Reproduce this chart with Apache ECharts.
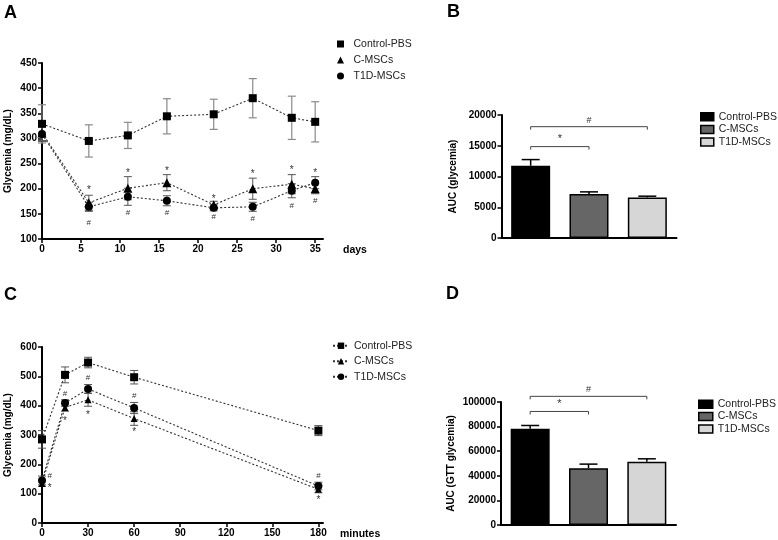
<!DOCTYPE html>
<html>
<head>
<meta charset="utf-8">
<script src="https://cdn.jsdelivr.net/npm/echarts@6/dist/echarts.min.js"></script>
<style>html,body{margin:0;padding:0;background:#fff}#c{width:778px;height:540px}</style>
</head>
<body>
<div id="c"></div>
<script>
// ---------- Panel A: glycemia over days ----------
const daysA = [0, 6, 11, 16, 22, 27, 32, 35];
const ctrlA = [329, 295, 306, 344, 348, 380, 341, 333];
const ctrlAErr = [38, 32, 26, 35, 30, 39, 43, 40];
const cmscA = [311, 172, 201, 212, 168, 200, 209, 200];
const cmscAErr = [15, 15, 23, 16, 7, 21, 19, 10];
const t1dA = [309, 164, 184, 176, 162, 164, 196, 212];
const t1dAErr = [15, 9, 17, 10, 6, 9, 14, 12];
const starsA = [[6, 201], [11, 235], [16, 239], [22, 184], [27, 232], [32, 240], [35, 234]];
const hashA = [[6, 133], [11, 152], [16, 152], [22, 144], [27, 141], [32, 167], [35, 176]];
const yTicksA = [100, 450, 50];

// ---------- Panel C: GTT over minutes ----------
const minC = [0, 15, 30, 60, 180];
const ctrlC = [285, 505, 547, 497, 315];
const ctrlCErr = [30, 27, 18, 23, 17];
const cmscC = [135, 394, 420, 356, 115];
const cmscCErr = [10, 13, 22, 23, 12];
const t1dC = [145, 409, 457, 392, 126];
const t1dCErr = [15, 11, 15, 19, 13];
const starsC = [[5, 126], [15, 353], [30, 375], [60, 316], [180, 84]];
const hashC = [[5, 160], [15, 441], [30, 496], [60, 435], [180, 160]];

// ---------- Panel B / D: AUC bars ----------
const groups = ['Control-PBS', 'C-MSCs', 'T1D-MSCs'];
const aucB = [11750, 7150, 6600];
const aucBErr = [1000, 350, 200];
const bracketsB = [[0, 2, 18100, '#'], [0, 1, 14860, '*']];
const aucD = [78200, 46200, 51400];
const aucDErr = [2700, 3300, 2400];
const bracketsD = [[0, 2, 104600, '#'], [0, 1, 92300, '*']];

const FONT = 'Liberation Sans, Arial, Helvetica, sans-serif';
const fillColors = ['#000000', '#666666', '#d6d6d6'];

function zip(xs, ys) { return xs.map((x, i) => [x, ys[i]]); }
function zip3(xs, ys, es) { return xs.map((x, i) => [x, ys[i], es[i]]); }

function errRender(capHalf, twoSided, color, width) {
  return function (params, api) {
    const x = api.value(0), m = api.value(1), e = api.value(2);
    const hi = api.coord([x, m + e]);
    const lo = api.coord([x, twoSided ? m - e : m]);
    const st = { stroke: color, lineWidth: width };
    const ch = [
      { type: 'line', shape: { x1: hi[0], y1: hi[1], x2: lo[0], y2: lo[1] }, style: st },
      { type: 'line', shape: { x1: hi[0] - capHalf, y1: hi[1], x2: hi[0] + capHalf, y2: hi[1] }, style: st }
    ];
    if (twoSided) ch.push({ type: 'line', shape: { x1: lo[0] - capHalf, y1: lo[1], x2: lo[0] + capHalf, y2: lo[1] }, style: st });
    return { type: 'group', children: ch };
  };
}
function textRender(txt, dy, size) {
  return function (params, api) {
    const p = api.coord([api.value(0), api.value(1)]);
    return { type: 'text', x: p[0], y: p[1] + dy,
      style: { text: txt, fill: '#333', font: size + 'px ' + FONT, align: 'center', verticalAlign: 'middle' } };
  };
}
function bracketRender(list) {
  return function (params, api) {
    const b = list[params.dataIndex];
    const p0 = api.coord([b[0], b[2]]);
    const p1 = api.coord([b[1], b[2]]);
    return { type: 'group', children: [
      { type: 'polyline', shape: { points: [[p0[0], p0[1] + 3], [p0[0], p0[1]], [p1[0], p1[1]], [p1[0], p1[1] + 3]] },
        style: { stroke: '#444', lineWidth: 1, fill: null } },
      { type: 'text', x: (p0[0] + p1[0]) / 2, y: p0[1] - 2,
        style: { text: b[3], fill: '#333', font: (b[3] === '*' ? 11 : 9) + 'px ' + FONT, align: 'center', verticalAlign: 'bottom' } }
    ] };
  };
}

const axisLineStyle = { show: true, lineStyle: { color: '#000', width: 2 } };
const tickStyle = { show: true, inside: false, length: 4, lineStyle: { color: '#000', width: 1.5 } };
const labelStyle = { color: '#000', fontFamily: FONT, fontWeight: 'bold', fontSize: 10, formatter: v => String(v) };

const SQ = 'path://M0,0L10,0L10,10L0,10Z';
const TRI = 'path://M5,0L10,10L0,10Z';

const lineCommon = { type: 'line', lineStyle: { color: '#333', width: 1.1, type: [2, 2] }, itemStyle: { color: '#000' }, z: 3, silent: true };
const letterStyle = { fontFamily: FONT, fontSize: 18, fontWeight: 'bold', color: '#000' };

const option = {
  animation: false,
  backgroundColor: '#fff',
  title: [
    { text: 'A', left: 4, top: 4, padding: 0, textStyle: letterStyle },
    { text: 'B', left: 447, top: 3, padding: 0, textStyle: letterStyle },
    { text: 'C', left: 4, top: 286, padding: 0, textStyle: letterStyle },
    { text: 'D', left: 446, top: 285, padding: 0, textStyle: letterStyle }
  ],
  grid: [
    { left: 42, top: 63, width: 281, height: 176 },
    { left: 501.5, top: 115, width: 175, height: 123 },
    { left: 42, top: 347, width: 281, height: 177 },
    { left: 501, top: 402, width: 175, height: 123 }
  ],
  legend: [
    { orient: 'vertical', left: 337, top: 36, padding: 0, itemGap: 0, itemWidth: 16, itemHeight: 7,
      formatter: n => n.split('|')[1],
      textStyle: { fontFamily: FONT, fontSize: 10.5, color: '#222', lineHeight: 16 },
      data: [{ name: 'A|Control-PBS', icon: SQ }, { name: 'A|C-MSCs', icon: TRI }, { name: 'A|T1D-MSCs', icon: 'circle' }] },
    { orient: 'vertical', left: 700, top: 110.5, padding: 0, itemGap: 0, itemWidth: 13, itemHeight: 8,
      formatter: n => n.split('|')[1], itemStyle: { borderColor: '#000', borderWidth: 1.5 },
      textStyle: { fontFamily: FONT, fontSize: 10.5, color: '#222', lineHeight: 12.6 },
      data: [{ name: 'B|Control-PBS', icon: 'rect' }, { name: 'B|C-MSCs', icon: 'rect' }, { name: 'B|T1D-MSCs', icon: 'rect' }] },
    { orient: 'vertical', left: 332, top: 338, padding: 0, itemGap: 0, itemWidth: 16, itemHeight: 8,
      formatter: n => n.split('|')[1],
      textStyle: { fontFamily: FONT, fontSize: 10.5, color: '#222', lineHeight: 15.5 },
      data: ['C|Control-PBS', 'C|C-MSCs', 'C|T1D-MSCs'] },
    { orient: 'vertical', left: 698, top: 398, padding: 0, itemGap: 0, itemWidth: 14, itemHeight: 8,
      formatter: n => n.split('|')[1], itemStyle: { borderColor: '#000', borderWidth: 1.5 },
      textStyle: { fontFamily: FONT, fontSize: 10.5, color: '#222', lineHeight: 12.4 },
      data: [{ name: 'D|Control-PBS', icon: 'rect' }, { name: 'D|C-MSCs', icon: 'rect' }, { name: 'D|T1D-MSCs', icon: 'rect' }] }
  ],
  xAxis: [
    { gridIndex: 0, type: 'value', min: 0, max: 36, interval: 5,
      axisLine: axisLineStyle, axisTick: Object.assign({ customValues: [0, 5, 10, 15, 20, 25, 30, 35] }, tickStyle),
      axisLabel: Object.assign({ margin: 5, customValues: [0, 5, 10, 15, 20, 25, 30, 35] }, labelStyle),
      splitLine: { show: false },
      name: 'days', nameLocation: 'end', nameGap: 20,
      nameTextStyle: { fontFamily: FONT, fontWeight: 'bold', fontSize: 10.5, color: '#000', verticalAlign: 'top', padding: [6, 0, 0, 0] } },
    { gridIndex: 1, type: 'category', data: groups, axisLine: axisLineStyle, axisTick: { show: false }, axisLabel: { show: false } },
    { gridIndex: 2, type: 'value', min: 0, max: 183, interval: 30,
      axisLine: axisLineStyle, axisTick: Object.assign({ customValues: [0, 30, 60, 90, 120, 150, 180] }, tickStyle),
      axisLabel: Object.assign({ margin: 5, customValues: [0, 30, 60, 90, 120, 150, 180] }, labelStyle),
      splitLine: { show: false },
      name: 'minutes', nameLocation: 'end', nameGap: 17,
      nameTextStyle: { fontFamily: FONT, fontWeight: 'bold', fontSize: 10.5, color: '#000', verticalAlign: 'top', padding: [6, 0, 0, 0] } },
    { gridIndex: 3, type: 'category', data: groups, axisLine: axisLineStyle, axisTick: { show: false }, axisLabel: { show: false } }
  ],
  yAxis: [
    { gridIndex: 0, type: 'value', min: yTicksA[0], max: yTicksA[1], interval: yTicksA[2],
      axisLine: axisLineStyle, axisTick: tickStyle, axisLabel: Object.assign({ margin: 5 }, labelStyle), splitLine: { show: false },
      name: 'Glycemia (mg/dL)', nameLocation: 'middle', nameGap: 29,
      nameTextStyle: { fontFamily: FONT, fontWeight: 'bold', fontSize: 10, color: '#000' } },
    { gridIndex: 1, type: 'value', min: 0, max: 20000, interval: 5000,
      axisLine: axisLineStyle, axisTick: tickStyle, axisLabel: Object.assign({ margin: 5 }, labelStyle), splitLine: { show: false },
      name: 'AUC (glycemia)', nameLocation: 'middle', nameGap: 43,
      nameTextStyle: { fontFamily: FONT, fontWeight: 'bold', fontSize: 10, color: '#000' } },
    { gridIndex: 2, type: 'value', min: 0, max: 600, interval: 100,
      axisLine: axisLineStyle, axisTick: tickStyle, axisLabel: Object.assign({ margin: 5 }, labelStyle), splitLine: { show: false },
      name: 'Glycemia (mg/dL)', nameLocation: 'middle', nameGap: 29,
      nameTextStyle: { fontFamily: FONT, fontWeight: 'bold', fontSize: 10, color: '#000' } },
    { gridIndex: 3, type: 'value', min: 0, max: 100000, interval: 20000,
      axisLine: axisLineStyle, axisTick: tickStyle, axisLabel: Object.assign({ margin: 5 }, labelStyle), splitLine: { show: false },
      name: 'AUC (GTT glycemia)', nameLocation: 'middle', nameGap: 45,
      nameTextStyle: { fontFamily: FONT, fontWeight: 'bold', fontSize: 10, color: '#000' } }
  ],
  series: []
};

const S = option.series;
// Panel A
S.push({ type: 'custom', xAxisIndex: 0, yAxisIndex: 0, z: 1, silent: true, encode: { x: 0, y: 1 }, renderItem: errRender(4, true, '#8a8a8a', 1.2), data: zip3(daysA, ctrlA, ctrlAErr) });
S.push({ type: 'custom', xAxisIndex: 0, yAxisIndex: 0, z: 1, silent: true, encode: { x: 0, y: 1 }, renderItem: errRender(4, true, '#555', 1), data: zip3(daysA, cmscA, cmscAErr) });
S.push({ type: 'custom', xAxisIndex: 0, yAxisIndex: 0, z: 1, silent: true, encode: { x: 0, y: 1 }, renderItem: errRender(4, true, '#555', 1), data: zip3(daysA, t1dA, t1dAErr) });
S.push(Object.assign({}, lineCommon, { name: 'A|Control-PBS', xAxisIndex: 0, yAxisIndex: 0, symbol: 'rect', symbolSize: 8, data: zip(daysA, ctrlA) }));
S.push(Object.assign({}, lineCommon, { name: 'A|C-MSCs', xAxisIndex: 0, yAxisIndex: 0, symbol: 'triangle', symbolSize: 9, data: zip(daysA, cmscA) }));
S.push(Object.assign({}, lineCommon, { name: 'A|T1D-MSCs', xAxisIndex: 0, yAxisIndex: 0, symbol: 'circle', symbolSize: 8, data: zip(daysA, t1dA) }));
S.push({ type: 'custom', xAxisIndex: 0, yAxisIndex: 0, z: 4, silent: true, encode: { x: 0, y: 1 }, renderItem: textRender('*', 2, 10), data: starsA });
S.push({ type: 'custom', xAxisIndex: 0, yAxisIndex: 0, z: 4, silent: true, encode: { x: 0, y: 1 }, renderItem: textRender('#', 0, 8), data: hashA });

// Panel C
S.push({ type: 'custom', xAxisIndex: 2, yAxisIndex: 2, z: 1, silent: true, encode: { x: 0, y: 1 }, renderItem: errRender(4, true, '#555', 1), data: zip3(minC, ctrlC, ctrlCErr) });
S.push({ type: 'custom', xAxisIndex: 2, yAxisIndex: 2, z: 1, silent: true, encode: { x: 0, y: 1 }, renderItem: errRender(4, true, '#555', 1), data: zip3(minC, cmscC, cmscCErr) });
S.push({ type: 'custom', xAxisIndex: 2, yAxisIndex: 2, z: 1, silent: true, encode: { x: 0, y: 1 }, renderItem: errRender(4, true, '#555', 1), data: zip3(minC, t1dC, t1dCErr) });
S.push(Object.assign({}, lineCommon, { name: 'C|Control-PBS', xAxisIndex: 2, yAxisIndex: 2, symbol: 'rect', symbolSize: 8, data: zip(minC, ctrlC) }));
S.push(Object.assign({}, lineCommon, { name: 'C|C-MSCs', xAxisIndex: 2, yAxisIndex: 2, symbol: 'triangle', symbolSize: 7, data: zip(minC, cmscC) }));
S.push(Object.assign({}, lineCommon, { name: 'C|T1D-MSCs', xAxisIndex: 2, yAxisIndex: 2, symbol: 'circle', symbolSize: 8, data: zip(minC, t1dC) }));
S.push({ type: 'custom', xAxisIndex: 2, yAxisIndex: 2, z: 4, silent: true, encode: { x: 0, y: 1 }, renderItem: textRender('*', 2, 10), data: starsC });
S.push({ type: 'custom', xAxisIndex: 2, yAxisIndex: 2, z: 4, silent: true, encode: { x: 0, y: 1 }, renderItem: textRender('#', 0, 8), data: hashC });

// Panels B and D (bars)
function barPanel(prefix, axisIdx, vals, errs, brackets) {
  groups.forEach((g, i) => {
    const d = groups.map((_, j) => (j === i ? vals[i] : '-'));
    S.push({ type: 'bar', name: prefix + '|' + g, xAxisIndex: axisIdx, yAxisIndex: axisIdx, barWidth: 39, barGap: '-100%',
      itemStyle: { color: fillColors[i], borderColor: '#000', borderWidth: 1.5 }, z: 2, silent: true, data: d });
  });
  S.push({ type: 'custom', xAxisIndex: axisIdx, yAxisIndex: axisIdx, z: 3, silent: true, encode: { x: 0, y: 1 },
    renderItem: errRender(9, false, '#000', 1.5), data: groups.map((_, i) => [i, vals[i], errs[i]]) });
  S.push({ type: 'custom', xAxisIndex: axisIdx, yAxisIndex: axisIdx, z: 3, silent: true, clip: false, encode: { x: 0, y: 2 },
    renderItem: bracketRender(brackets), data: brackets.map(b => [b[0], b[1], b[2]]) });
}
barPanel('B', 1, aucB, aucBErr, bracketsB);
barPanel('D', 3, aucD, aucDErr, bracketsD);

const chart = echarts.init(document.getElementById('c'), null, { renderer: 'canvas' });
chart.setOption(option);
</script>
</body>
</html>
